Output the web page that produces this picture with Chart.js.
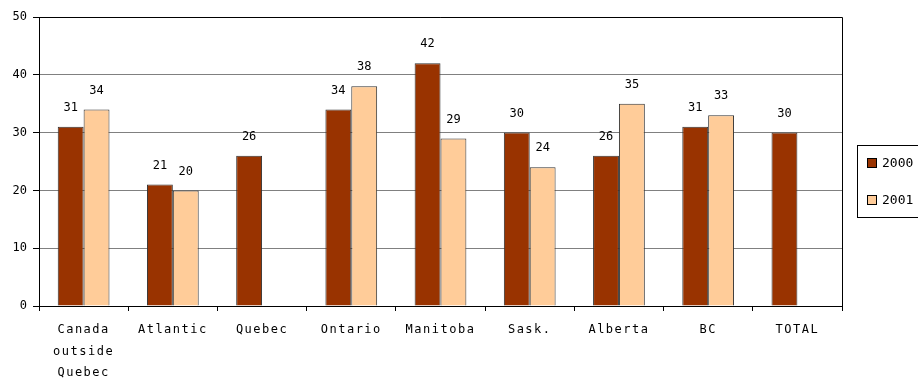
<!DOCTYPE html>
<html>
<head>
<meta charset="utf-8">
<script src="https://cdn.jsdelivr.net/npm/chart.js@4"></script>
<style>
  html, body { margin: 0; padding: 0; background: #fff; }
  canvas { display: block; }
</style>
</head>
<body>
<canvas id="chart" width="918" height="383"></canvas>
<script>
// chart data
const regions = [['Canada', 'outside', 'Quebec'], 'Atlantic', 'Quebec', 'Ontario', 'Manitoba', 'Sask.', 'Alberta', 'BC', 'TOTAL'];
const values2000 = [31, 21, 26, 34, 42, 30, 26, 31, 30];
const values2001 = [34, 20, null, 38, 29, 24, 35, 33, null];
const yTicks = [0, 10, 20, 30, 40, 50];

const FONT = '"DejaVu Sans Mono", "Liberation Mono", monospace';

// draws the numbers above the bars, the frame and the legend box
const extras = {
    id: 'extras',
    afterLayout(chart) {
        // a bit of letter spacing on the category labels, like the original
        const xs = chart.scales.x;
        if (xs._spaced) return;
        const orig = xs.drawLabels;
        xs.drawLabels = function (area) {
            this.ctx.save();
            this.ctx.letterSpacing = '1.5px';
            orig.call(this, area);
            this.ctx.restore();
        };
        xs._spaced = true;
    },
    afterDatasetsDraw(chart) {
        const ctx = chart.ctx;
        const area = chart.chartArea;
        ctx.save();
        ctx.font = '12px ' + FONT;
        ctx.fillStyle = '#000';
        ctx.textAlign = 'center';
        ctx.textBaseline = 'bottom';
        chart.data.datasets.forEach((ds, i) => {
            chart.getDatasetMeta(i).data.forEach((bar, j) => {
                if (ds.data[j] == null) return;
                ctx.fillText(String(ds.data[j]), bar.x, bar.y - 13);
            });
        });
        // frame top and right
        ctx.strokeStyle = '#000';
        ctx.lineWidth = 1;
        ctx.beginPath();
        ctx.moveTo(area.left, area.top + 0.5);
        ctx.lineTo(area.right + 0.5, area.top + 0.5);
        ctx.lineTo(area.right + 0.5, area.bottom);
        ctx.stroke();

        // legend
        ctx.strokeStyle = '#000';
        ctx.strokeRect(857.5, 145.5, 70, 72);
        const items = [['2000', '#993300', 163], ['2001', '#FFCC99', 200]];
        ctx.textAlign = 'left';
        ctx.textBaseline = 'middle';
        ctx.font = '13px ' + FONT;
        items.forEach(([txt, col, y]) => {
            ctx.fillStyle = col;
            ctx.fillRect(867, y - 5, 10, 10);
            ctx.strokeStyle = '#000';
            ctx.strokeRect(867.5, y - 4.5, 9, 9);
            ctx.fillStyle = '#000';
            ctx.fillText(txt, 882, y + 1);
        });
        ctx.restore();
    }
};

new Chart(document.getElementById('chart'), {
    type: 'bar',
    data: {
        labels: regions,
        datasets: [
            {
                label: '2000',
                data: values2000,
                backgroundColor: '#993300',
                borderColor: '#333333',
                borderWidth: 1,
                borderSkipped: 'bottom'
            },
            {
                label: '2001',
                data: values2001,
                backgroundColor: '#FFCC99',
                borderColor: '#333333',
                borderWidth: 1,
                borderSkipped: 'bottom'
            }
        ]
    },
    options: {
        responsive: false,
        animation: false,
        layout: { padding: { top: 17, right: 76, left: 0, bottom: 0 } },
        plugins: {
            legend: { display: false },
            tooltip: { enabled: false }
        },
        datasets: {
            bar: { categoryPercentage: 0.58, barPercentage: 1.0 }
        },
        scales: {
            x: {
                grid: { drawOnChartArea: false, offset: true, color: '#000', tickLength: 5 },
                border: { color: '#000', width: 1 },
                ticks: {
                    color: '#000',
                    font: { family: FONT, size: 12, lineHeight: 1.8 },
                    padding: 8,
                    maxRotation: 0,
                    autoSkip: false
                },
                afterFit(scale) { scale.height = 77; }
            },
            y: {
                min: 0,
                max: 50,
                afterBuildTicks(scale) { scale.ticks = yTicks.map(v => ({ value: v })); },
                grid: { color: '#808080', tickLength: 6, tickColor: '#000' },
                border: { color: '#000', width: 1 },
                ticks: {
                    color: '#000',
                    font: { family: FONT, size: 12 },
                    padding: 6
                },
                afterFit(scale) { scale.width = 39; }
            }
        }
    },
    plugins: [extras]
});
</script>
</body>
</html>
